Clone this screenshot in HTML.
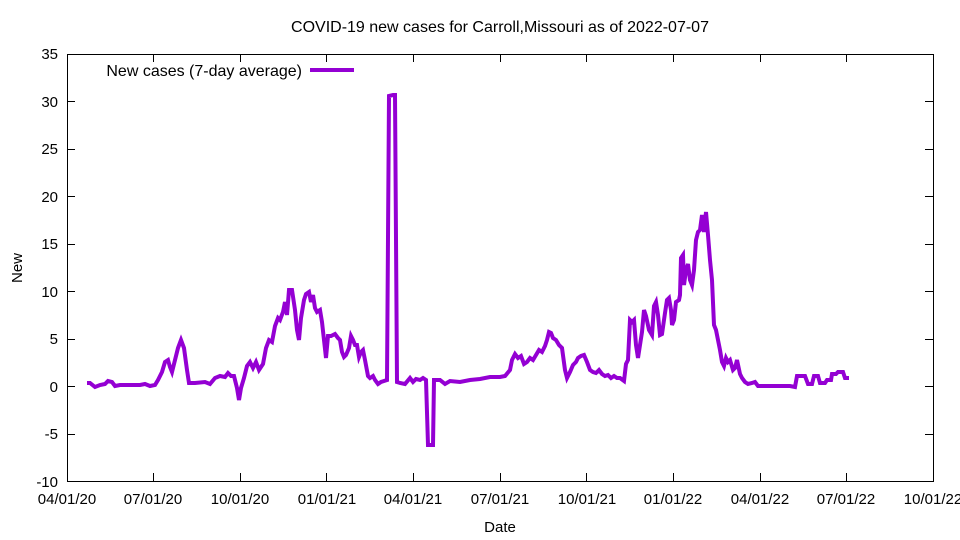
<!DOCTYPE html>
<html><head><meta charset="utf-8"><style>body{margin:0;background:#fff}svg{display:block}text{font-family:"Liberation Sans",sans-serif;font-size:15px;fill:#000}.b{font-size:16px}</style></head><body>
<svg width="960" height="540" xmlns="http://www.w3.org/2000/svg">
<rect x="67.5" y="54.5" width="866" height="427" fill="none" stroke="#000" stroke-width="1"/>
<g stroke="#000" stroke-width="1">
<path d="M67 481.5h8M67 434.5h8M67 386.5h8M67 339.5h8M67 291.5h8M67 244.5h8M67 196.5h8M67 149.5h8M67 101.5h8M67 54.5h8
M933 481.5h-8M933 434.5h-8M933 386.5h-8M933 339.5h-8M933 291.5h-8M933 244.5h-8M933 196.5h-8M933 149.5h-8M933 101.5h-8M933 54.5h-8
M153.5 481v-8M240.5 481v-8M326.5 481v-8M413.5 481v-8M500.5 481v-8M586.5 481v-8M673.5 481v-8M760.5 481v-8M846.5 481v-8
M153.5 54v8M240.5 54v8M326.5 54v8M413.5 54v8M500.5 54v8M586.5 54v8M673.5 54v8M760.5 54v8M846.5 54v8"/>
</g>
<g text-anchor="end">
<text x="58" y="487">-10</text><text x="58" y="439">-5</text><text x="58" y="392">0</text><text x="58" y="344">5</text><text x="58" y="297">10</text><text x="58" y="249">15</text><text x="58" y="202">20</text><text x="58" y="154">25</text><text x="58" y="107">30</text><text x="58" y="59">35</text>
</g>
<g text-anchor="middle">
<text x="67" y="504">04/01/20</text><text x="153" y="504">07/01/20</text><text x="240" y="504">10/01/20</text><text x="327" y="504">01/01/21</text><text x="413" y="504">04/01/21</text><text x="500" y="504">07/01/21</text><text x="587" y="504">10/01/21</text><text x="673" y="504">01/01/22</text><text x="760" y="504">04/01/22</text><text x="846" y="504">07/01/22</text><text x="933" y="504">10/01/22</text>
<text x="500" y="532">Date</text>
<text class="b" x="500" y="32">COVID-19 new cases for Carroll,Missouri as of 2022-07-07</text>
</g>
<text x="22" y="268" text-anchor="middle" transform="rotate(-90 22 268)">New</text>
<text class="b" x="302" y="76" text-anchor="end">New cases (7-day average)</text>
<line x1="310" y1="70" x2="354" y2="70" stroke="#9400d3" stroke-width="4"/>
<polyline fill="none" stroke="#9400d3" stroke-width="4" stroke-linejoin="miter" points="87,383 90,383 95,387 100,385 105,384 108,381 112,382 115,386 120,385 130,385 140,385 145,384 150,386 155,385 158,380 162,372 165,362 168,360 170,367 172,372 175,360 178,348 181,340 184,348 187,370 189,383 195,383 205,382 210,384 215,378 220,376 225,377 228,373 231,376 234,376 237,388 239,400 241,388 244,378 247,366 250,362 253,368 256,362 259,370 263,364 266,348 269,340 272,342 275,326 278,318 280,320 283,312 285,302 287,315 289,290 292,290 295,310 297,330 299,340 301,318 304,300 306,294 309,292 311,302 313,295 315,308 317,312 320,310 322,322 324,340 326,358 328,336 331,336 335,334 338,338 340,340 342,352 344,357 346,355 349,348 351,336 353,340 355,345 357,345 359,357 361,352 363,350 365,360 368,376 370,378 373,376 375,380 378,384 381,382 384,381 387,380 389,96 393,95 395,95 397,382 400,383 405,384 410,378 413,382 416,379 420,380 423,378 426,380 428,445 433,445 434,380 440,380 445,384 450,381 460,382 470,380 480,379 490,377 500,377 505,376 510,370 512,360 515,354 518,358 521,356 524,364 527,362 530,358 533,360 536,355 539,350 542,352 545,346 547,340 549,332 551,333 553,338 556,340 559,345 562,348 565,370 567,378 570,372 573,365 576,362 578,358 581,356 584,355 587,362 590,370 593,372 596,373 599,370 602,374 605,376 608,375 611,378 614,376 617,378 620,378 624,381 626,364 628,360 630,320 632,322 634,320 636,345 638,358 640,345 642,332 644,310 646,316 649,330 652,335 654,306 656,302 658,315 660,335 662,334 664,320 665,313 667,300 669,298 671,310 672,325 674,320 676,302 679,300 680,295 681,258 683,255 684,285 686,270 688,264 690,280 692,285 694,270 696,240 698,232 700,230 702,215 704,232 706,212 708,235 710,260 712,280 714,325 716,330 718,340 720,350 722,362 724,366 726,358 728,362 730,360 733,370 735,368 737,360 740,374 742,378 745,382 748,384 752,383 755,382 758,386 790,386 795,387 797,376 805,376 808,384 812,384 814,376 818,376 820,383 825,383 827,380 831,380 832,374 836,374 838,372 843,372 845,378 849,378"/>
</svg>
</body></html>
